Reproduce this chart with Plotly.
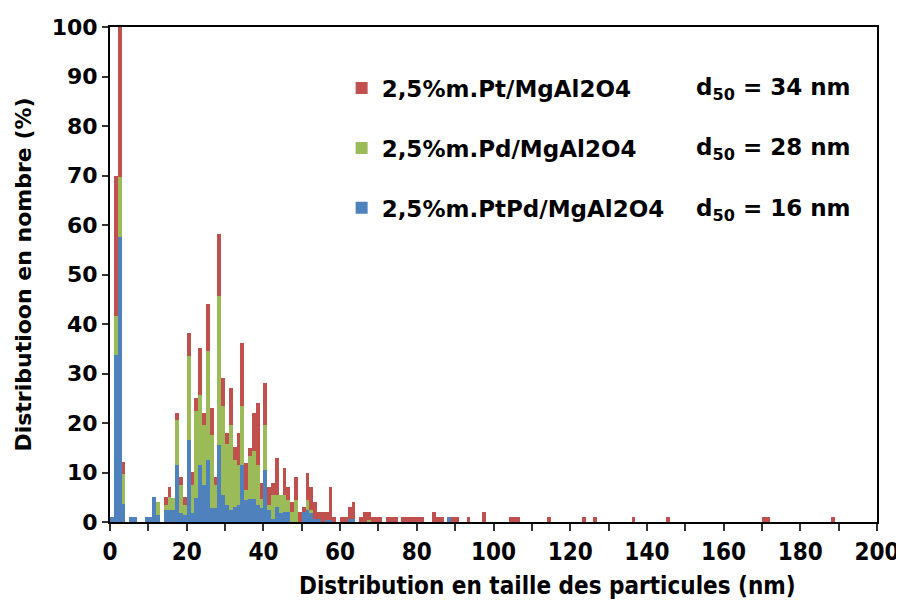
import plotly.graph_objects as go

# bin start (nm) of every non-empty 1-nm class
bins = [0, 1, 2, 3, 5, 6, 9, 10, 11, 12, 14, 15, 16, 17, 18, 19, 20, 21, 22, 23, 24, 25, 26, 27, 28, 29,
        30, 31, 32, 33, 34, 35, 36, 37, 38, 39, 40, 41, 42, 43, 44, 45, 46, 47, 48, 49, 50, 51, 52, 53,
        54, 55, 56, 57, 58, 60, 61, 62, 63, 65, 66, 67, 68, 69, 70, 72, 73, 74, 76, 77, 78, 79, 80, 81,
        84, 85, 86, 88, 89, 90, 93, 97, 104, 105, 106, 114, 123, 126, 136, 145, 170, 171, 188]

ptpd = [1.0, 33.7, 57.6, 3.6, 1.0, 1.0, 1.0, 1.0, 5.0, 1.5, 2.4, 2.4, 2.4, 11.5, 1.8, 1.4, 16.6, 1.8, 4.9, 11.5, 7.5, 12.5, 2.8, 2.8, 15.6, 5.5,
        3.4, 2.4, 3.1, 3.4, 11.5, 4.5, 4.6, 4.6, 3.5, 2.8, 10.5, 2.5, 0.7, 3.0, 1.8, 2.1, 2.1, 0, 0, 0, 2.1, 2.4, 1.8, 0.7,
        0.7, 0, 0.5, 0.5, 0, 0, 0, 0.6, 0.6, 0, 0, 0, 0, 0, 0, 0, 0, 0, 0, 0, 0, 0, 0, 0,
        0, 0, 0, 1.0, 0, 0, 0, 0, 0, 0, 0, 0, 0, 0, 0, 0, 0, 0, 0]

pd_ = [0, 8.0, 12.1, 6.0, 0, 0, 0, 0, 0, 2.6, 1.0, 2.7, 2.4, 9.1, 5.7, 2.1, 17.0, 5.7, 17.6, 14.2, 12.0, 22.0, 14.8, 4.7, 30.0, 18.0,
       12.3, 17.2, 9.5, 8.1, 12.0, 2.0, 8.8, 9.8, 8.0, 1.8, 9.1, 1.0, 4.8, 2.5, 3.7, 3.4, 2.3, 2.0, 4.4, 0, 0, 2.0, 0.6, 0,
       0, 0, 0, 0, 0, 0, 0, 0, 0, 0, 0, 0.5, 0, 0, 0, 0, 0, 0, 0, 0, 0, 0, 0, 0,
       0, 0, 0, 0, 0, 0, 0, 0, 0, 0, 0, 0, 0, 0, 0, 0, 0, 0, 0]

pt = [0, 28.3, 30.3, 2.5, 0, 0, 0, 0, 0, 0, 1.7, 2.0, 0, 1.5, 1.5, 1.5, 4.5, 2.7, 2.5, 9.4, 2.6, 9.6, 5.5, 1.5, 12.5, 5.5,
      2.3, 7.4, 2.5, 6.5, 12.6, 5.5, 1.6, 7.7, 12.5, 3.3, 8.4, 3.5, 2.4, 7.5, 0, 5.5, 2.6, 2.1, 4.6, 2.1, 1.0, 5.6, 4.6, 3.4,
      1.4, 2.1, 1.6, 6.5, 1.1, 1.1, 1.1, 2.5, 3.5, 1.1, 2.1, 1.6, 1.0, 1.0, 1.0, 1.0, 1.0, 1.0, 1.0, 1.0, 1.0, 1.0, 1.0, 1.0,
      2.0, 1.0, 1.0, 0, 1.0, 1.0, 1.0, 2.0, 1.0, 1.0, 1.0, 1.0, 1.0, 1.0, 1.0, 1.0, 1.0, 1.0, 1.0]

series_names = ["2,5%m.PtPd/MgAl2O4", "2,5%m.Pd/MgAl2O4", "2,5%m.Pt/MgAl2O4"]
colors = ["#4F81BD", "#9BBB59", "#C0504D"]
d50_labels = ["d<sub>50</sub> = 16 nm", "d<sub>50</sub> = 28 nm", "d<sub>50</sub> = 34 nm"]

x_ticks = [0, 20, 40, 60, 80, 100, 120, 140, 160, 180, 200]
y_ticks = [0, 10, 20, 30, 40, 50, 60, 70, 80, 90, 100]

BOLD = "DejaVu Sans, Verdana, sans-serif"
COND = "DejaVu Sans Condensed, Liberation Sans Narrow, DejaVu Sans, sans-serif"

xc = [b + 0.5 for b in bins]

fig = go.Figure()
for name, vals, col, grp in zip(series_names, [ptpd, pd_, pt], colors, ["c", "b", "a"]):
    fig.add_trace(go.Bar(x=xc, y=vals, width=1.0, name=name, marker=dict(color=col, line=dict(width=0)),
                         legendgroup=grp, legendrank={"a": 1, "b": 2, "c": 3}[grp]))

# page body has an 8 px margin: figure is 896x594 so it fits the 904x602 window
fig.update_layout(
    width=896, height=594,
    barmode="stack", bargap=0,
    paper_bgcolor="white", plot_bgcolor="white",
    margin=dict(l=102, r=27, t=19, b=80),
    showlegend=True,
    legend=dict(x=0.302, y=0.92, xanchor="left", yanchor="top", traceorder="grouped",
                tracegroupgap=27, bgcolor="rgba(0,0,0,0)",
                font=dict(family=BOLD, size=23, color="black", weight="bold"), itemwidth=30),
    xaxis=dict(range=[0, 200], tickvals=x_ticks, ticks="outside", ticklen=7, tickwidth=1.5, tickcolor="#333",
               showline=True, linecolor="black", linewidth=2, mirror=True, showgrid=False, zeroline=False,
               automargin=False,
               minor=dict(dtick=10, ticks="outside", ticklen=7, tickwidth=1.5, tickcolor="#333"),
               tickfont=dict(family=COND, size=24, color="black", weight="bold")),
    yaxis=dict(range=[0, 100], tickvals=y_ticks, ticks="outside", ticklen=6, tickwidth=1.5, tickcolor="#333",
               showline=True, linecolor="black", linewidth=2, mirror=True, showgrid=False, zeroline=False,
               automargin=False,
               tickfont=dict(family=BOLD, size=22, color="black", weight="bold"),
               title=dict(text="Distributioon en nombre (%)", standoff=14,
                          font=dict(family=BOLD, size=22, color="black", weight="bold"))),
)

# x-axis title (offset to the right of the plot centre, as in the reference)
fig.add_annotation(xref="paper", yref="paper", x=0.571, y=-0.13, xanchor="center", yanchor="middle",
                   text="Distribution en taille des particules (nm)", showarrow=False,
                   font=dict(family=COND, size=24, color="black", weight="bold"))

for lab, yv in zip(d50_labels, [0.631, 0.753, 0.874]):
    fig.add_annotation(xref="paper", yref="paper", x=0.762, y=yv, xanchor="left", yanchor="middle",
                       text=lab, showarrow=False,
                       font=dict(family=BOLD, size=23, color="black", weight="bold"))

fig.write_html("out.html")
